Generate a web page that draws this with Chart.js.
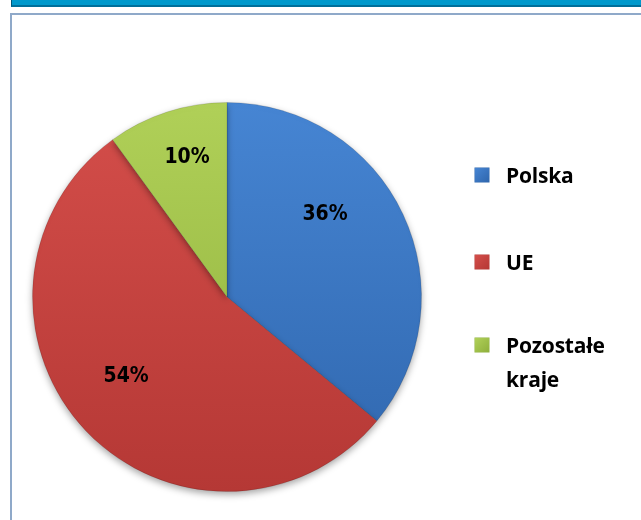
<!DOCTYPE html>
<html>
<head>
<meta charset="utf-8">
<script src="https://cdn.jsdelivr.net/npm/chart.js@4"></script>
<style>
  html, body { margin: 0; padding: 0; background: #ffffff; }
  body { width: 641px; height: 520px; position: relative; overflow: hidden; }
  #hdr { position: absolute; left: 11px; top: 0; width: 640px; height: 5px; background: #0099cc; border-bottom: 2px solid #006f9a; border-left: 1px solid #00577a; }
  #panel { position: absolute; left: 10px; top: 13px; width: 640px; height: 520px; border-top: 2px solid #8fa9c9; border-left: 2px solid #8fa9c9; }
  #wrap { position: absolute; left: 0; top: 0; width: 641px; height: 520px; }
  #legend { position: absolute; left: 475px; top: 0; width: 160px; font-family: "Open Sans", "Liberation Sans", Arial, sans-serif; font-weight: bold; font-size: 21px; color: #000; }
  .li { position: absolute; left: 0; width: 160px; }
  .sw { position: absolute; left: 0; width: 14px; height: 14px; }
  .tx { position: absolute; left: 31px; width: 125px; line-height: 34px; letter-spacing: -0.2px; }
</style>
</head>
<body>
<div id="hdr"></div>
<div id="panel"></div>
<div id="wrap"><canvas id="c" width="641" height="520"></canvas></div>
<div id="legend"></div>
<script>
const categories = ["Polska", "UE", "Pozostałe kraje"];
const shares = [36, 54, 10];
const percentLabels = ["36%", "54%", "10%"];
const sliceColors = ["#3b78c6", "#c94541", "#a3c44c"];
const sliceColorsLight = ["#4685d3", "#d44e4a", "#b0d058"];
const sliceColorsDark = ["#2f66ad", "#b53835", "#8fb03c"];

const labelPlugin = {
  id: "pctLabels",
  afterDatasetsDraw(chart, args, opts) {
    const ctx = chart.ctx;
    const meta = chart.getDatasetMeta(0);
    ctx.save();
    ctx.font = "bold 21px 'DejaVu Sans Condensed', 'DejaVu Sans', Verdana, sans-serif";
    ctx.fillStyle = "#000";
    ctx.textAlign = "center";
    ctx.textBaseline = "middle";
    meta.data.forEach((arc, i) => {
      const p = arc.getProps(["x", "y", "startAngle", "endAngle", "outerRadius"], true);
      const mid = (p.startAngle + p.endAngle) / 2 + opts.angleShift[i] * Math.PI / 180;
      const r = p.outerRadius * opts.radial[i];
      ctx.fillText(percentLabels[i], p.x + Math.cos(mid) * r, p.y + Math.sin(mid) * r);
    });
    ctx.restore();
  }
};

const shadowPlugin = {
  id: "pieShadow",
  beforeDatasetsDraw(chart) {
    const ctx = chart.ctx;
    ctx.save();
    ctx.shadowColor = "rgba(0,0,0,0.35)";
    ctx.shadowBlur = 7;
    ctx.shadowOffsetY = 3;
  },
  afterDatasetsDraw(chart) {
    chart.ctx.restore();
  }
};

function sliceFill(context) {
  const chart = context.chart;
  const i = context.dataIndex;
  const area = chart.chartArea;
  if (!area) return sliceColors[i];
  const g = chart.ctx.createLinearGradient(0, area.top, 0, area.bottom);
  g.addColorStop(0, sliceColorsLight[i]);
  g.addColorStop(1, sliceColorsDark[i]);
  return g;
}

const chart = new Chart(document.getElementById("c"), {
  type: "pie",
  data: {
    labels: categories,
    datasets: [{
      data: shares,
      backgroundColor: sliceFill,
      borderColor: "rgba(0,0,0,0.12)",
      borderWidth: 1
    }]
  },
  options: {
    responsive: false,
    animation: false,
    layout: { padding: { left: 32, right: 219, top: 102, bottom: 28 } },
    plugins: {
      legend: { display: false },
      tooltip: { enabled: false },
      pctLabels: { angleShift: [-15, 5, 2], radial: [0.66, 0.66, 0.745] }
    }
  },
  plugins: [shadowPlugin, labelPlugin]
});

// HTML legend built from the chart's own labels/colors
const legendTops = [175, 262, 345];
const legend = document.getElementById("legend");
chart.data.labels.forEach((lab, i) => {
  const li = document.createElement("div");
  li.className = "li";
  li.style.top = (legendTops[i] - 17) + "px";
  const sw = document.createElement("div");
  sw.className = "sw";
  sw.style.top = "10px";
  sw.style.background = "linear-gradient(135deg," + sliceColorsLight[i] + "," + sliceColorsDark[i] + ")";
  sw.style.boxShadow = "0 0 0 0.5px " + sliceColorsDark[i];
  const tx = document.createElement("div");
  tx.className = "tx";
  tx.textContent = lab;
  li.appendChild(sw);
  li.appendChild(tx);
  legend.appendChild(li);
});
</script>
</body>
</html>
